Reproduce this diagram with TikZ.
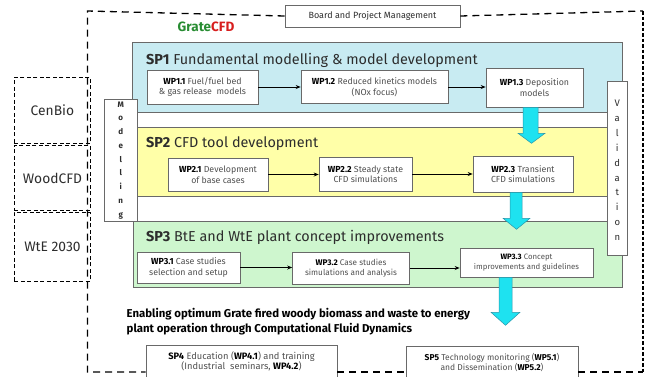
\documentclass[tikz,border=0pt]{standalone}
\usepackage{fontspec}
\setmainfont{Fira Sans}
\usetikzlibrary{calc,arrows.meta}
\definecolor{sponefill}{RGB}{200,235,242}
\definecolor{sptwofill}{RGB}{255,255,168}
\definecolor{spthreefill}{RGB}{206,246,206}
\definecolor{cyanfill}{RGB}{30,226,240}
\definecolor{cyanedge}{RGB}{40,150,170}
\definecolor{gtgreen}{RGB}{40,140,50}
\definecolor{gtred}{RGB}{215,30,30}
\definecolor{txtgray}{RGB}{80,80,80}
\definecolor{darktxt}{RGB}{45,45,45}
\definecolor{boxgray}{RGB}{105,105,105}
\begin{document}
\begin{tikzpicture}[x=1pt,y=-1pt,
  spbox/.style={draw=boxgray, line width=0.6pt, anchor=north west, inner sep=0pt},
  sptitle/.style={anchor=base west, inner sep=0pt, text=darktxt, font=\fontsize{14.4}{16}\selectfont},
  wpbox/.style={draw=boxgray, fill=white, line width=0.6pt, align=center, inner sep=1pt,
    text=txtgray, font=\fontsize{8.8}{10.5}\selectfont},
  sidebox/.style={draw=boxgray, fill=white, line width=0.6pt, anchor=north west, inner sep=0pt},
  vletters/.style={align=center, inner sep=0pt, text=darktxt},
  extbox/.style={draw=black, line width=0.9pt, dash pattern=on 4pt off 2.5pt, anchor=north west,
    inner sep=0pt, text=darktxt, font=\fontsize{13.8}{15}\selectfont},
  framedash/.style={line width=1.3pt, dash pattern=on 7pt off 5pt},
  rightdash/.style={line width=2.6pt, dash pattern=on 3.5pt off 2pt},
  flow/.style={line width=1pt, -{Stealth[length=5pt,width=4pt]}},
  bigarrow/.style={fill=cyanfill, draw=cyanedge, line width=0.5pt, line join=miter},
  bottombox/.style={draw=boxgray, fill=white, line width=0.6pt, align=center, inner sep=1pt,
    text=txtgray, font=\fontsize{8.5}{10}\selectfont}
]
\useasboundingbox (0,0) rectangle (645,376);
\clip (0,0) rectangle (645,376);

% external project boxes
\node[extbox, minimum width=76, minimum height=66] (cenbio) at (14,77) {CenBio};
\node[extbox, minimum width=76, minimum height=65] (woodcfd) at (14,145) {WoodCFD};
\node[extbox, minimum width=76, minimum height=69] (wte) at (14,212) {WtE 2030};

% sub-project boxes
\node[spbox, fill=sponefill, minimum width=490, minimum height=70] (sp1) at (132,42) {};
\node[spbox, fill=sptwofill, minimum width=476, minimum height=69] (sp2) at (131,127) {};
\node[spbox, fill=spthreefill, minimum width=489, minimum height=66] (sp3) at (133,221) {};

\node[sptitle] (sp1t) at (146,64) {\textbf{SP1} Fundamental modelling \& model development};
\node[sptitle] (sp2t) at (146,147) {\textbf{SP2} CFD tool development};
\node[sptitle] (sp3t) at (146,241) {\textbf{SP3} BtE and WtE plant concept improvements};

% work packages
\node[wpbox, minimum width=111, minimum height=34] (wp11) at (202.5,87) {\textbf{\color{black}WP1.1} Fuel/fuel bed\\\& gas release\ \ models};
\node[wpbox, minimum width=147, minimum height=33] (wp12) at (374.5,87) {\textbf{\color{black}WP1.2} Reduced kinetics models\\(NOx focus)};
\node[wpbox, minimum width=97, minimum height=39] (wp13) at (534.5,87.5) {\textbf{\color{black}WP1.3} Deposition\\models};

\node[wpbox, minimum width=100, minimum height=33] (wp21) at (218,174.5) {\textbf{\color{black}WP2.1} Development\\of base cases};
\node[wpbox, minimum width=93, minimum height=34] (wp22) at (365.5,174) {\textbf{\color{black}WP2.2} Steady state\\CFD simulations};
\node[wpbox, minimum width=100, minimum height=36] (wp23) at (523,174) {\textbf{\color{black}WP2.3} Transient\\CFD simulations};

\node[wpbox, minimum width=103, minimum height=31] (wp31) at (188.5,267.5) {\textbf{\color{black}WP3.1} Case studies\\selection and setup};
\node[wpbox, minimum width=117, minimum height=32, font=\fontsize{8.2}{10}\selectfont] (wp32) at (351,268) {\textbf{\color{black}WP3.2} Case studies\\simulations and analysis};
\node[wpbox, minimum width=133, minimum height=29, font=\fontsize{7.8}{10}\selectfont] (wp33) at (526.5,262.5) {\textbf{\color{black}WP3.3} Concept\\improvements and guidelines};

\draw[flow] (wp11.east) -- (wp11.east -| wp12.west);
\draw[flow] (wp12.east) -- (wp12.east -| wp13.west);
\draw[flow] (wp21.east) -- (wp21.east -| wp22.west);
\draw[flow] (wp22.east) -- (wp22.east -| wp23.west);
\draw[flow] (wp31.east) -- (wp31.east -| wp32.west);
\draw[flow] (wp32.east) -- (wp32.east -| wp33.west);

% big cyan arrows
\draw[bigarrow] ($(wp13.south)+(-11.5,0)$) -- ++(0,26) -- ++(-5,0) -- ++(13.5,10) -- ++(13.5,-10) -- ++(-7,0) -- ++(0,-26) -- cycle;
\draw[bigarrow] ($(wp23.south)+(-13,0)$) -- ++(0,26) -- ++(-7,0) -- ++(13.5,11) -- ++(13.5,-11) -- ++(-8,0) -- ++(0,-26) -- cycle;
\draw[bigarrow] ($(wp33.south)+(-27.5,0)$) -- ++(0,35) -- ++(-8,0) -- ++(14.5,13) -- ++(14.5,-13) -- ++(-8,0) -- ++(0,-35) -- cycle;

% modelling / validation
\node[sidebox, minimum width=33, minimum height=122] (model) at (104,99) {};
\node[vletters, font=\bfseries\fontsize{8}{13.75}\selectfont] (modelt) at (model.center) {M\\o\\d\\e\\l\\l\\i\\n\\g};
\node[sidebox, minimum width=20, minimum height=174] (valid) at (607,81) {};
\node[vletters, font=\fontsize{9.5}{14.9}\selectfont] (validt) at ($(valid.center)+(0,2)$) {V\\a\\l\\i\\d\\a\\t\\i\\o\\n};

% title and management
\node[font=\bfseries\fontsize{13.5}{15}\selectfont, inner sep=0pt] (title) at (206,26.5) {\textcolor{gtgreen}{Grate}\textcolor{gtred}{CFD}};
\node[draw=boxgray, fill=white, line width=0.6pt, minimum width=175, minimum height=22, inner sep=0pt,
  text=darktxt, font=\fontsize{9}{10}\selectfont] (board) at (372.5,16) {Board and Project Management};

% goal text
\node[anchor=west, align=left, inner sep=0pt, text=black, font=\bfseries\fontsize{11.4}{15}\selectfont] (goal) at (126.5,321.5)
  {Enabling optimum Grate fired woody biomass and waste to energy\\plant operation through Computational Fluid Dynamics};

% SP4 / SP5
\node[bottombox, minimum width=191, minimum height=32, anchor=north, font=\fontsize{9.3}{10.5}\selectfont] (sp4) at (241.5,345)
  {\textbf{\color{black}SP4} Education (\textbf{\color{black}WP4.1}) and training\\(Industrial\ \ seminars, \textbf{\color{black}WP4.2})};
\node[bottombox, minimum width=172, minimum height=32, anchor=north] (sp5) at (492,346)
  {\textbf{\color{black}SP5} Technology monitoring (\textbf{\color{black}WP5.1})\\and Dissemination (\textbf{\color{black}WP5.2})};

% dashed frame
\coordinate (ftl) at (87.5,11);
\coordinate (ftr) at (643,11);
\coordinate (fbl) at (87.5,372);
\coordinate (fbr) at (643,372);
\draw[framedash] (board.west) -- (ftl) -- (fbl) -- (sp4.west |- fbl);
\draw[framedash] (sp4.east |- fbl) -- (sp5.west |- fbl);
\draw[framedash] (sp5.east |- fbl) -- (fbr);
\draw[framedash] (board.east) -- (ftr);
\draw[rightdash] (ftr) -- (fbr);
\end{tikzpicture}
\end{document}
